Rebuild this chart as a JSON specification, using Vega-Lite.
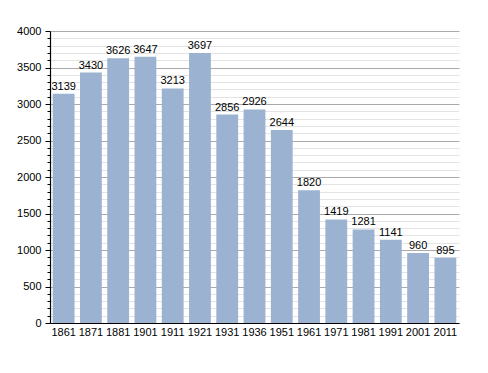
{
  "$schema": "https://vega.github.io/schema/vega-lite/v6.json",
  "autosize": "none",
  "padding": {"left": 50, "top": 31, "right": 29, "bottom": 50},
  "width": 409,
  "height": 292,
  "background": "white",
  "config": {
    "view": {"stroke": null},
    "font": "Liberation Sans",
    "axis": {"labelFont": "Liberation Sans", "labelFontSize": 11, "labelColor": "#000", "domainColor": "#000", "tickColor": "#000"}
  },
  "data": {"values": [
    {"year": "1861", "pop": 3139},
    {"year": "1871", "pop": 3430},
    {"year": "1881", "pop": 3626},
    {"year": "1901", "pop": 3647},
    {"year": "1911", "pop": 3213},
    {"year": "1921", "pop": 3697},
    {"year": "1931", "pop": 2856},
    {"year": "1936", "pop": 2926},
    {"year": "1951", "pop": 2644},
    {"year": "1961", "pop": 1820},
    {"year": "1971", "pop": 1419},
    {"year": "1981", "pop": 1281},
    {"year": "1991", "pop": 1141},
    {"year": "2001", "pop": 960},
    {"year": "2011", "pop": 895}
  ]},
  "encoding": {
    "x": {"field": "year", "type": "ordinal", "sort": null,
      "scale": {"paddingInner": 0.2, "paddingOuter": 0.1},
      "axis": {"title": null, "labelAngle": 0, "ticks": false, "labelPadding": 3, "domainWidth": 1.2}},
    "y": {"field": "pop", "type": "quantitative",
      "scale": {"domain": [0, 4000], "nice": false},
      "axis": {"title": null,
        "values": [0,100,200,300,400,500,600,700,800,900,1000,1100,1200,1300,1400,1500,1600,1700,1800,1900,2000,2100,2200,2300,2400,2500,2600,2700,2800,2900,3000,3100,3200,3300,3400,3500,3600,3700,3800,3900,4000],
        "labelExpr": "datum.value % 500 === 0 ? datum.value : ''",
        "labelPadding": 4,
        "labelOverlap": false,
        "tickSize": {"condition": {"test": "datum.value % 500 === 0", "value": 5}, "value": 3},
        "grid": true,
        "gridColor": {"condition": {"test": "datum.value % 500 === 0", "value": "#aaaaaa"}, "value": "#e3e3e3"},
        "domainWidth": 1.2}}
  },
  "layer": [
    {"mark": {"type": "bar", "color": "#9bb3d0"}},
    {"mark": {"type": "text", "baseline": "bottom", "dy": -2, "fontSize": 11, "color": "#000"},
     "encoding": {"text": {"field": "pop", "type": "quantitative"}}}
  ]
}
